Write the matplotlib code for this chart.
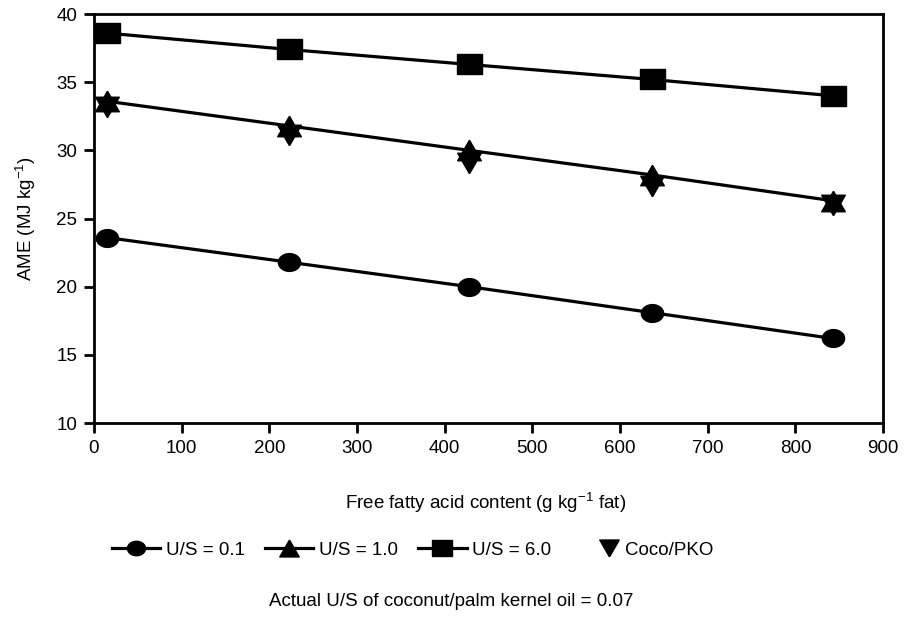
import numpy as np
import matplotlib
matplotlib.use("Agg")
import matplotlib.pyplot as plt
from matplotlib.lines import Line2D
from matplotlib.legend_handler import HandlerLine2D

plt.rcParams['font.family'] = ['Liberation Sans', 'DejaVu Sans']
FS = 13.5

ffa = [15, 222, 428, 636, 843]
us_01 = [23.6, 21.8, 20.0, 18.1, 16.2]
us_10 = [33.6, 31.8, 30.0, 28.2, 26.3]
us_60 = [38.6, 37.4, 36.3, 35.2, 34.0]
coco = [33.2, 31.1, 29.1, 27.4, 26.0]

labels = ["U/S = 0.1", "U/S = 1.0", "U/S = 6.0", "Coco/PKO"]
xticks = [0, 100, 200, 300, 400, 500, 600, 700, 800, 900]
yticks = [10, 15, 20, 25, 30, 35, 40]

# wide markers (reference image is horizontally stretched)
sx = 1.25
t = np.linspace(0, 2 * np.pi, 60)
ellipse = list(zip(sx * np.cos(t), np.sin(t)))
rect = [(-sx, -1), (sx, -1), (sx, 1), (-sx, 1), (-sx, -1)]
tri_up = [(0, 1), (-1.15, -1), (1.15, -1), (0, 1)]
tri_dn = [(0, -1), (-1.15, 1), (1.15, 1), (0, -1)]


class RightMarkerHandler(HandlerLine2D):
    """Marker-only legend entry drawn at the right end of the handle box."""
    def create_artists(self, legend, orig_handle, xdescent, ydescent, width, height, fontsize, trans):
        y = (height - ydescent) / 2
        x = width - xdescent - 8
        m = Line2D([x], [y], lw=0, marker=orig_handle.get_marker(), ms=orig_handle.get_markersize(),
                   color='black', transform=trans)
        return [m]


fig = plt.figure(figsize=(9.07, 6.23), dpi=100)
ax = fig.add_axes([0.1036, 0.321, 0.87, 0.6565])

lw = 2.3
ax.plot(ffa, us_01, color='black', lw=lw, marker=ellipse, ms=16, mfc='black', mec='black', label=labels[0])
ax.plot(ffa, us_10, color='black', lw=lw, marker=tri_up, ms=17, mfc='black', mec='black', label=labels[1])
ax.plot(ffa, us_60, color='black', lw=lw, marker=rect, ms=18, mfc='black', mec='black', label=labels[2])
ax.plot(ffa, coco, color='black', lw=0, marker=tri_dn, ms=17, mfc='black', mec='black', label=labels[3])

ax.set_xlim(0, 900)
ax.set_ylim(10, 40)
ax.set_xticks(xticks)
ax.set_yticks(yticks)
ax.tick_params(axis='both', direction='out', length=7, width=2, labelsize=FS, colors='black', pad=5)
for s in ax.spines.values():
    s.set_linewidth(2)
    s.set_color('black')

ax.set_ylabel("AME (MJ kg$^{\\mathregular{-1}}$)", fontsize=FS, labelpad=13)
fig.text(0.535, 0.193, "Free fatty acid content (g kg$^{\\mathregular{-1}}$ fat)", ha='center', va='center', fontsize=FS)

h_coco = Line2D([], [], color='black', lw=0, marker=tri_dn, ms=14)
handles = [
    Line2D([], [], color='black', lw=lw, marker=ellipse, ms=13),
    Line2D([], [], color='black', lw=lw, marker=tri_up, ms=14),
    Line2D([], [], color='black', lw=lw, marker=rect, ms=14),
    h_coco,
]
fig.legend(handles, labels, loc='center', bbox_to_anchor=(0.455, 0.117), ncol=4, frameon=False,
           fontsize=FS, handlelength=2.6, handletextpad=0.3, columnspacing=1.05,
           handler_map={h_coco: RightMarkerHandler()})

fig.text(0.497, 0.034, "Actual U/S of coconut/palm kernel oil = 0.07", ha='center', va='center', fontsize=FS)

fig.savefig("out.png", dpi=100)
